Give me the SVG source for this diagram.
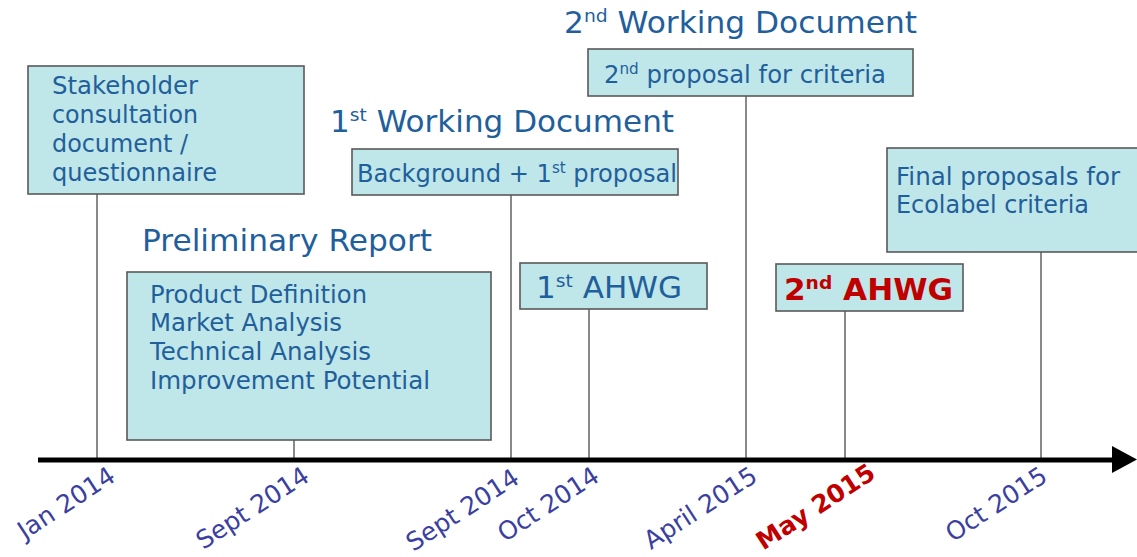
<svg xmlns="http://www.w3.org/2000/svg" width="1137" height="557" viewBox="0 0 1137 557">
  <style>
    .box { fill: #bfe6e8; stroke: #595959; stroke-width: 1.6; }
    .conn { stroke: #4a4a4a; stroke-width: 1.3; fill: none; }
    .t { font-family: "DejaVu Sans", Verdana, sans-serif; fill: #1f5f9c; font-size: 24px; }
    .title { font-size: 30px; }
    .big { font-size: 30px; }
    .date { font-family: "DejaVu Sans", Verdana, sans-serif; fill: #3b3f9f; font-size: 25px; text-anchor: end; }
    .red { fill: #c00000; font-weight: bold; }
  </style>
  <rect width="1137" height="557" fill="#ffffff"/>

  <!-- drop lines from each box down to the time axis -->
  <g id="connectors">
    <line class="conn" x1="97" y1="194" x2="97" y2="460"/>
    <line class="conn" x1="294" y1="440" x2="294" y2="460"/>
    <line class="conn" x1="511" y1="195" x2="511" y2="460"/>
    <line class="conn" x1="589" y1="309" x2="589" y2="460"/>
    <line class="conn" x1="746" y1="96" x2="746" y2="460"/>
    <line class="conn" x1="845" y1="311" x2="845" y2="460"/>
    <line class="conn" x1="1041" y1="252" x2="1041" y2="460"/>
  </g>

  <!-- time axis -->
  <g id="axis">
    <line x1="38" y1="460" x2="1115" y2="460" stroke="#000" stroke-width="5"/>
    <polygon points="1112,446 1137,459.5 1112,473" fill="#000"/>
  </g>

  <g id="stakeholder">
    <rect class="box" x="28" y="66" width="276" height="128"/>
    <text class="t" x="52" y="94" textLength="146" lengthAdjust="spacingAndGlyphs">Stakeholder</text>
    <text class="t" x="52" y="123" textLength="146" lengthAdjust="spacingAndGlyphs">consultation</text>
    <text class="t" x="52" y="152" textLength="136" lengthAdjust="spacingAndGlyphs">document /</text>
    <text class="t" x="52" y="181" textLength="165" lengthAdjust="spacingAndGlyphs">questionnaire</text>
  </g>

  <g id="preliminary">
    <text class="t title" x="142" y="251" textLength="290" lengthAdjust="spacingAndGlyphs">Preliminary Report</text>
    <rect class="box" x="127" y="272" width="364" height="168"/>
    <text class="t" x="150" y="303" textLength="217" lengthAdjust="spacingAndGlyphs">Product Definition</text>
    <text class="t" x="150" y="331" textLength="192" lengthAdjust="spacingAndGlyphs">Market Analysis</text>
    <text class="t" x="150" y="360" textLength="221" lengthAdjust="spacingAndGlyphs">Technical Analysis</text>
    <text class="t" x="150" y="389" textLength="280" lengthAdjust="spacingAndGlyphs">Improvement Potential</text>
  </g>

  <g id="wd1">
    <text class="t title" x="330" y="132" textLength="344" lengthAdjust="spacingAndGlyphs">1<tspan font-size="18" dy="-11">st</tspan><tspan dy="11"> Working Document</tspan></text>
    <rect class="box" x="352" y="149" width="326" height="46"/>
    <text class="t" x="357" y="182" textLength="320" lengthAdjust="spacingAndGlyphs">Background + 1<tspan font-size="15" dy="-9">st</tspan><tspan dy="9"> proposal</tspan></text>
  </g>

  <g id="wd2">
    <text class="t title" x="564" y="33" textLength="353" lengthAdjust="spacingAndGlyphs">2<tspan font-size="18" dy="-11">nd</tspan><tspan dy="11"> Working Document</tspan></text>
    <rect class="box" x="588" y="49" width="325" height="47"/>
    <text class="t" x="604" y="83" textLength="282" lengthAdjust="spacingAndGlyphs">2<tspan font-size="15" dy="-9">nd</tspan><tspan dy="9"> proposal for criteria</tspan></text>
  </g>

  <g id="ahwg1">
    <rect class="box" x="520" y="263" width="187" height="46"/>
    <text class="t big" x="536" y="298" textLength="146" lengthAdjust="spacingAndGlyphs">1<tspan font-size="18" dy="-11">st</tspan><tspan dy="11"> AHWG</tspan></text>
  </g>

  <g id="ahwg2">
    <rect class="box" x="776" y="264" width="187" height="47"/>
    <text class="t big red" x="784" y="300" textLength="169" lengthAdjust="spacingAndGlyphs">2<tspan font-size="18" dy="-11">nd</tspan><tspan dy="11"> AHWG</tspan></text>
  </g>

  <g id="final">
    <rect class="box" x="887" y="148" width="260" height="104"/>
    <text class="t" x="896" y="185" textLength="224" lengthAdjust="spacingAndGlyphs">Final proposals for</text>
    <text class="t" x="896" y="213" textLength="193" lengthAdjust="spacingAndGlyphs">Ecolabel criteria</text>
  </g>

  <g id="dates">
    <text class="date" transform="translate(117,480) rotate(-33)">Jan 2014</text>
    <text class="date" transform="translate(311,480) rotate(-33)">Sept 2014</text>
    <text class="date" transform="translate(521,482) rotate(-33)">Sept 2014</text>
    <text class="date" transform="translate(601,480) rotate(-33)">Oct 2014</text>
    <text class="date" transform="translate(759,480) rotate(-33)">April 2015</text>
    <text class="date red" transform="translate(877,477) rotate(-33)">May 2015</text>
    <text class="date" transform="translate(1049,480) rotate(-33)">Oct 2015</text>
  </g>
</svg>
